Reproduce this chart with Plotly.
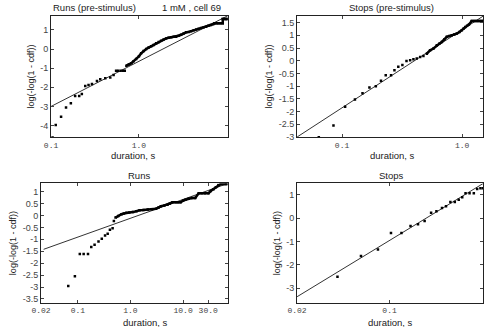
import plotly.graph_objects as go
from plotly.subplots import make_subplots

# --- Runs (pre-stimulus) ---
runs_pre_x = [0.104, 0.113, 0.130, 0.148, 0.168, 0.188, 0.209, 0.224, 0.245, 0.267, 0.292,
              0.333, 0.363, 0.414, 0.472, 0.515]
runs_pre_y = [-4.62, -3.97, -3.54, -3.05, -2.84, -2.46, -2.46, -2.35, -1.93, -1.88, -1.83,
              -1.67, -1.58, -1.53, -1.48, -1.36]
runs_pre_flat_x = [0.55, 0.58, 0.62, 0.66, 0.69]
runs_pre_flat_y = [-1.13, -1.13, -1.13, -1.13, -1.13]
runs_pre_dense_x = [0.72, 0.77, 0.82, 0.87, 0.93, 1.0, 1.06, 1.13, 1.21, 1.29, 1.38, 1.47, 1.57,
                    1.68, 1.79, 1.91, 2.04, 2.18, 2.33, 2.49, 2.65, 2.83, 3.02, 3.23, 3.45,
                    3.68, 3.93, 4.2, 4.48, 4.78, 5.1, 5.45, 5.82, 6.2, 6.6, 7.05, 7.24, 7.6,
                    8.0, 8.5, 9.0, 9.0, 9.4, 9.8, 10.2]
runs_pre_dense_y = [-0.87, -0.80, -0.74, -0.63, -0.52, -0.38, -0.22, -0.10, 0.005, 0.08, 0.15,
                    0.22, 0.30, 0.37, 0.44, 0.50, 0.56, 0.59, 0.62, 0.64, 0.65, 0.70, 0.75,
                    0.82, 0.88, 0.90, 0.93, 0.98, 1.02, 1.06, 1.10, 1.14, 1.17, 1.22, 1.26,
                    1.31, 1.35, 1.35, 1.35, 1.35, 1.35, 1.58, 1.58, 1.58, 1.58]
runs_pre_fit_x = [0.1, 10.3]
runs_pre_fit_y = [-3.0, 1.75]

# --- Stops (pre-stimulus) ---
stops_pre_x = [0.064, 0.0848, 0.106, 0.128, 0.148, 0.169, 0.191, 0.211, 0.231, 0.256, 0.273,
               0.294, 0.318, 0.344, 0.369, 0.393, 0.419, 0.447, 0.476]
stops_pre_y = [-3.01, -2.55, -1.81, -1.52, -1.28, -1.05, -1.0, -0.79, -0.57, -0.57, -0.37,
               -0.24, -0.17, -0.01, 0.02, 0.06, 0.09, 0.15, 0.19]
stops_pre_dense_x = [0.508, 0.541, 0.577, 0.615, 0.645, 0.677, 0.71, 0.745, 0.78, 0.82, 0.86,
                     0.903, 0.95, 0.994, 1.03, 1.06, 1.1, 1.14, 1.2, 1.26, 1.32, 1.38, 1.44, 1.5]
stops_pre_dense_y = [0.28, 0.41, 0.48, 0.61, 0.67, 0.74, 0.84, 0.94, 0.97, 1.0, 1.03,
                     1.07, 1.13, 1.20, 1.27, 1.33, 1.38, 1.43, 1.56, 1.56, 1.56, 1.56, 1.56, 1.56]
stops_pre_fit_x = [0.0422, 1.5]
stops_pre_fit_y = [-3.0, 1.76]

# --- Runs ---
runs_x = [0.0658, 0.0879, 0.109, 0.129, 0.156, 0.18, 0.208, 0.247, 0.285, 0.329, 0.369,
          0.407, 0.458, 0.484]
runs_y = [-2.96, -2.55, -1.62, -1.62, -1.62, -1.32, -1.23, -1.09, -0.98, -0.84, -0.77,
          -0.60, -0.54, -0.23]
runs_dense_x = [0.521, 0.585, 0.675, 0.75, 0.837, 0.95, 1.12, 1.3, 1.49, 1.75, 2.13, 2.55,
                3.05, 3.4, 3.79, 4.4, 5.05, 5.6, 6.27, 7.2, 8.0, 8.98, 10.0, 11.1, 12.8, 14.9,
                17.0, 19.8, 22.5, 26.0, 30.4, 33.5, 37.8, 42.0, 46.8, 52.0, 58.0, 64.0, 67.0]
runs_dense_y = [-0.09, -0.02, 0.05, 0.08, 0.11, 0.12, 0.14, 0.18, 0.22, 0.23, 0.25, 0.26,
                0.28, 0.33, 0.39, 0.42, 0.45, 0.50, 0.55, 0.55, 0.55, 0.55, 0.62, 0.66, 0.70,
                0.73, 0.73, 0.93, 0.93, 0.93, 0.93, 1.02, 1.10, 1.18, 1.27, 1.32, 1.32, 1.32,
                1.32]
runs_fit_x = [0.0224, 70.8]
runs_fit_y = [-1.42, 1.34]

# --- Stops ---
stops_x = [0.0404, 0.0608, 0.0817, 0.1025, 0.123, 0.144, 0.164, 0.184, 0.206, 0.226,
           0.249, 0.267, 0.288, 0.311, 0.333, 0.354, 0.375, 0.402, 0.433, 0.459, 0.486,
           0.507]
stops_y = [-2.51, -1.62, -1.34, -0.64, -0.64, -0.33, -0.26, -0.12, 0.23, 0.30,
           0.44, 0.51, 0.69, 0.69, 0.79, 0.90, 1.07, 1.07, 1.07, 1.25, 1.28,
           1.28]
stops_fit_x = [0.02, 0.51]
stops_fit_y = [-3.37, 1.49]

# axis ticks
tl_xticks = [0.1, 1.0]
tl_xtext = ["0.1", "1.0"]
tl_yticks = [1, 0, -1, -2, -3, -4]
tl_ytext = ["1", "0", "-1", "-2", "-3", "-4"]
tr_xticks = [0.1, 1.0]
tr_xtext = ["0.1", "1.0"]
tr_yticks = [1.5, 1, 0.5, 0, -0.5, -1, -1.5, -2, -2.5, -3]
tr_ytext = ["1.5", "1", "0.5", "0", "-0.5", "-1", "-1.5", "-2", "-2.5", "-3"]
bl_xticks = [0.02, 0.1, 1.0, 10.0, 30.0]
bl_xtext = ["0.02", "0.1", "1.0", "10.0", "30.0"]
bl_yticks = [1, 0.5, 0, -0.5, -1, -1.5, -2, -2.5, -3, -3.5]
bl_ytext = ["1", "0.5", "0", "-0.5", "-1", "-1.5", "-2", "-2.5", "-3", "-3.5"]
br_xticks = [0.02, 0.1]
br_xtext = ["0.02", "0.1"]
br_yticks = [1, 0, -1, -2, -3]
br_ytext = ["1", "0", "-1", "-2", "-3"]

panels = [
    (1, 1, [(runs_pre_x, runs_pre_y), (runs_pre_flat_x, runs_pre_flat_y)],
     [(runs_pre_dense_x, runs_pre_dense_y)], runs_pre_fit_x, runs_pre_fit_y),
    (1, 2, [(stops_pre_x, stops_pre_y)], [(stops_pre_dense_x, stops_pre_dense_y)],
     stops_pre_fit_x, stops_pre_fit_y),
    (2, 1, [(runs_x, runs_y)], [(runs_dense_x, runs_dense_y)], runs_fit_x, runs_fit_y),
    (2, 2, [(stops_x, stops_y)], [], stops_fit_x, stops_fit_y),
]

fig = make_subplots(rows=2, cols=2)

for r, c, sparse, dense, fx, fy in panels:
    fig.add_trace(
        go.Scatter(x=fx, y=fy, mode="lines", line=dict(color="#333333", width=1)),
        row=r, col=c,
    )
    for px, py in sparse:
        fig.add_trace(
            go.Scatter(x=px, y=py, mode="markers",
                       marker=dict(symbol="square", size=2.5, color="black")),
            row=r, col=c,
        )
    for px, py in dense:
        fig.add_trace(
            go.Scatter(x=px, y=py, mode="lines+markers", line=dict(color="black", width=2.5),
                       marker=dict(symbol="square", size=2.5, color="black")),
            row=r, col=c,
        )

sans = "Liberation Sans, Arial, sans-serif"
mono = "Liberation Mono, Courier New, monospace"

common_x = dict(type="log", ticks="inside", ticklen=3, mirror="ticks", showline=True,
                linecolor="#222222", linewidth=1, showgrid=False, zeroline=False,
                tickfont=dict(family=mono, size=8, color="#444444"),
                ticklabeloverflow="allow", tickangle=0,
                tickmode="array", automargin=False)
common_y = dict(ticks="inside", ticklen=3, mirror="ticks", showline=True,
                linecolor="#222222", linewidth=1, showgrid=False, zeroline=False,
                tickfont=dict(family=sans, size=9, color="#444444"),
                title=dict(text="log(-log(1 - cdf))", font=dict(family=sans, size=9, color="#222222"),
                           standoff=4),
                tickmode="array", automargin=False)

fig.update_layout(
    xaxis=dict(common_x, domain=[0.104, 0.464], range=[-1, 1.012],
               tickvals=tl_xticks, ticktext=tl_xtext),
    yaxis=dict(common_y, domain=[0.581, 0.951], range=[-4.6, 1.73],
               tickvals=tl_yticks, ticktext=tl_ytext),
    xaxis2=dict(common_x, domain=[0.605, 0.984], range=[-1.375, 0.175],
                tickvals=tr_xticks, ticktext=tr_xtext),
    yaxis2=dict(common_y, domain=[0.581, 0.951], range=[-3.0, 1.76],
                tickvals=tr_yticks, ticktext=tr_ytext),
    xaxis3=dict(common_x, domain=[0.0835, 0.464], range=[-1.70, 1.85],
                tickvals=bl_xticks, ticktext=bl_xtext),
    yaxis3=dict(common_y, domain=[0.074, 0.439], range=[-3.66, 1.34],
                tickvals=bl_yticks, ticktext=bl_ytext),
    xaxis4=dict(common_x, domain=[0.605, 0.984], range=[-1.699, -0.293],
                tickvals=br_xticks, ticktext=br_xtext),
    yaxis4=dict(common_y, domain=[0.074, 0.439], range=[-3.63, 1.49],
                tickvals=br_yticks, ticktext=br_ytext),
)

labels = [
    ("Runs (pre-stimulus)", 94, 7),
    ("1 mM , cell 69", 191, 7),
    ("Stops (pre-stimulus)", 391, 7),
    ("Runs", 139, 175),
    ("Stops", 391, 175),
    ("duration, s", 133, 155),
    ("duration, s", 392, 155),
    ("duration, s", 145, 322.5),
    ("duration, s", 390, 322.5),
]
for text, x, y in labels:
    fig.add_annotation(text=text, x=x / 491, y=1 - y / 327, xref="paper", yref="paper",
                       showarrow=False, font=dict(family=sans, size=9.5, color="#222222"),
                       xanchor="center", yanchor="middle")

fig.update_layout(
    width=491, height=327, showlegend=False,
    plot_bgcolor="white", paper_bgcolor="white",
    margin=dict(l=0, r=0, t=0, b=0),
)

fig.write_html("out.html", config={"displayModeBar": False},
               post_script="document.body.style.margin='0';")
